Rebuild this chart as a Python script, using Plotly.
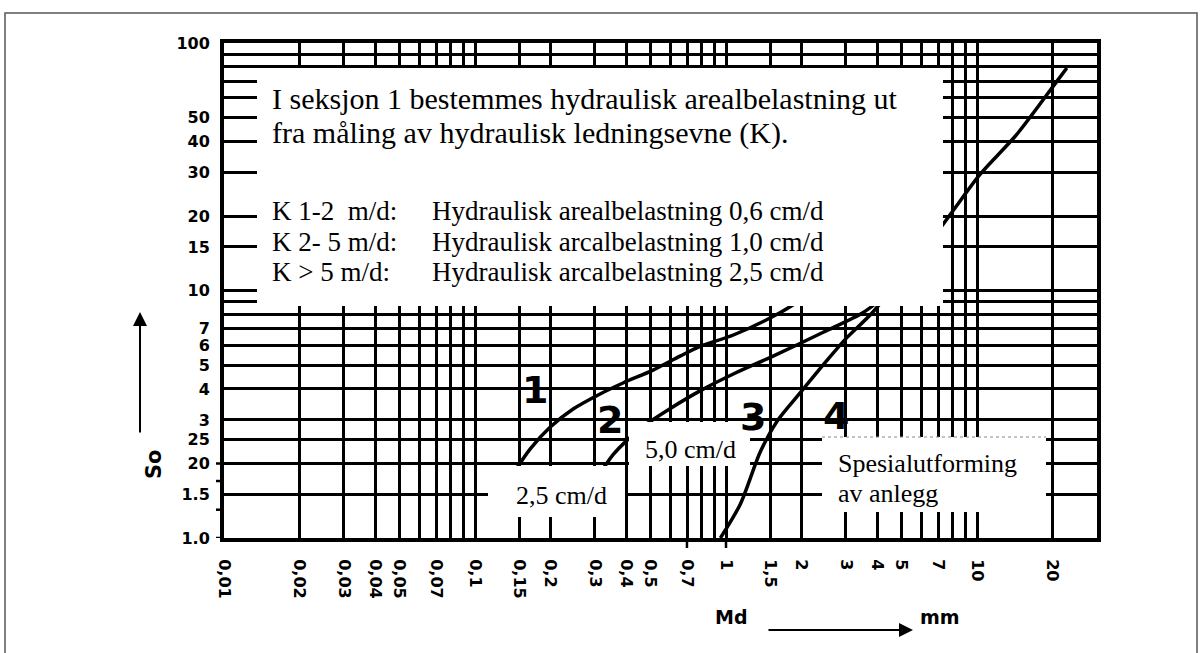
import math
import plotly.graph_objects as go

# ---------------- data ----------------
x_tickvals = [0.01, 0.02, 0.03, 0.04, 0.05, 0.06, 0.07, 0.08, 0.09, 0.1, 0.15, 0.2, 0.3, 0.4,
              0.5, 0.6, 0.7, 0.8, 0.9, 1, 1.5, 2, 3, 4, 5, 6, 7, 8, 9, 10, 20]
x_ticktext = ["0,01", "0,02", "0,03", "0,04", "0,05", "", "0,07", "", "", "0,1", "0,15", "0,2", "0,3", "0,4",
              "0,5", "", "0,7", "", "", "1", "1,5", "2", "3", "4", "5", "", "7", "", "", "10", "20"]
y_tickvals = [1, 1.5, 2, 2.5, 3, 4, 5, 6, 7, 8, 9, 10, 15, 20, 30, 40, 50, 60, 70, 80, 90, 100]
y_ticktext = ["1.0", "1.5", "20", "25", "3", "4", "5", "6", "7", "", "", "10", "15", "20", "30", "40",
              "50", "", "", "", "", "100"]
x_stub_ticks = [0.05, 0.1, 0.5, 1, 5, 10]
y_stub_ticks = [1, 2.5, 5, 10, 20, 50, 100]

curve1_md = [0.144, 0.166, 0.199, 0.246, 0.315, 0.389, 0.512, 0.656, 0.788, 1.07, 1.64, 2.1]
curve1_so = [1.86, 2.29, 2.80, 3.32, 3.82, 4.23, 4.77, 5.43, 5.95, 6.61, 8.13, 9.5]
curve2_md = [0.309, 0.355, 0.403, 0.467, 0.598, 0.788, 1.09, 1.54, 2.44, 3.51, 4.3]
curve2_so = [1.77, 2.17, 2.48, 2.82, 3.33, 3.93, 4.64, 5.43, 6.78, 8.13, 9.5]
curve3_md = [0.95, 1.14, 1.37, 1.60, 1.97, 2.53, 3.03, 3.85, 7.32, 10.3, 14.4, 20.8, 22.8]
curve3_so = [1.0, 1.37, 2.23, 2.97, 3.85, 5.23, 6.45, 8.19, 18.5, 29.5, 42.7, 70, 79.2]

info_lines = ["I seksjon 1 bestemmes hydraulisk arealbelastning ut",
              "fra måling av hydraulisk ledningsevne (K)."]
k_labels = ["K 1-2  m/d:", "K 2- 5 m/d:", "K > 5 m/d:"]
k_texts = ["Hydraulisk arealbelastning 0,6 cm/d",
           "Hydraulisk arcalbelastning 1,0 cm/d",
           "Hydraulisk arcalbelastning 2,5 cm/d"]
region_labels = ["1", "2", "3", "4"]

# ---------------- layout geometry ----------------
W, H = 1204, 653
L, R, T, B = 224, 1097, 43, 538


def px(x):
    return (x - L) / (R - L)


def py(y):
    return (B - y) / (B - T)


SERIF = "Liberation Serif"
SANS = "DejaVu Sans"

fig = go.Figure()
for xs, ys in [(curve1_md, curve1_so), (curve2_md, curve2_so), (curve3_md, curve3_so)]:
    fig.add_trace(go.Scatter(x=xs, y=ys, mode="lines",
                             line=dict(color="black", width=3.5, shape="spline", smoothing=0.8),
                             showlegend=False, hoverinfo="skip"))

shapes = []
# white boxes covering the grid
for (x0, y0, x1, y1) in [(257, 68, 943, 306), (488, 466, 625, 517),
                         (629, 422, 750, 466), (822, 437, 1046, 512)]:
    shapes.append(dict(type="rect", xref="paper", yref="paper",
                       x0=px(x0), x1=px(x1), y0=py(y1), y1=py(y0),
                       fillcolor="white", line=dict(width=0), layer="above"))
# thin grey dashed line at top of the right box
shapes.append(dict(type="line", xref="paper", yref="paper", x0=px(822), x1=px(1046),
                   y0=py(437), y1=py(437), line=dict(color="#888", width=1, dash="dot"),
                   layer="above"))
# tick stubs
for v in y_stub_ticks:
    shapes.append(dict(type="line", xref="paper", yref="y", x0=px(216), x1=0,
                       y0=math.log10(v), y1=math.log10(v), line=dict(color="black", width=2.5)))
for v in x_stub_ticks:
    shapes.append(dict(type="line", xref="x", yref="paper", x0=math.log10(v), x1=math.log10(v),
                       y0=0, y1=py(548), line=dict(color="black", width=2.5)))
# outer frame
shapes.append(dict(type="rect", xref="paper", yref="paper", x0=px(5), x1=px(1197),
                   y0=py(670), y1=py(13), line=dict(color="#555", width=1.5),
                   fillcolor="rgba(0,0,0,0)", layer="above"))

ann = []
for i, t in enumerate(info_lines):
    ann.append(dict(text=t, x=px(270), y=py([99, 133][i]), xref="paper", yref="paper",
                    showarrow=False, xanchor="left", yanchor="middle",
                    font=dict(family=SERIF, size=30, color="black")))
for i in range(3):
    yy = [211, 241.5, 272][i]
    for t, x in [(k_labels[i], 270), (k_texts[i], 430)]:
        ann.append(dict(text=t, x=px(x), y=py(yy), xref="paper", yref="paper",
                        showarrow=False, xanchor="left", yanchor="middle",
                        font=dict(family=SERIF, size=27, color="black")))

small = [("2,5 cm/d", 561, 495, "center"), ("5,0 cm/d", 690, 449, "center"),
         ("Spesialutforming", 836, 463, "left"), ("av anlegg", 836, 493, "left")]
for t, x, y, xa in small:
    ann.append(dict(text=t, x=px(x), y=py(y), xref="paper", yref="paper", showarrow=False,
                    xanchor=xa, yanchor="middle", font=dict(family=SERIF, size=26, color="black")))

for t, x, y in zip(region_labels, [535, 610, 753, 836], [390, 420, 417, 416]):
    ann.append(dict(text=t, x=px(x), y=py(y), xref="paper", yref="paper", showarrow=False,
                    xanchor="center", yanchor="middle",
                    font=dict(family=SANS, size=38, color="black", weight="bold")))

# axis titles with arrows
ann.append(dict(text="So", x=px(140), y=py(481), xref="paper", yref="paper", showarrow=False,
                textangle=-90, font=dict(family=SANS, size=21, color="black", weight="bold")))
ann.append(dict(text="", x=px(140), y=py(312), xref="paper", yref="paper", showarrow=True,
                ax=0, ay=122, arrowhead=2, arrowsize=1.4, arrowwidth=2, arrowcolor="black"))
ann.append(dict(text="Md", x=px(731), y=py(630), xref="paper", yref="paper", showarrow=False,
                font=dict(family=SANS, size=19, color="black", weight="bold")))
ann.append(dict(text="", x=px(913), y=py(630), xref="paper", yref="paper", showarrow=True,
                ax=-146, ay=0, arrowhead=2, arrowsize=1.4, arrowwidth=2, arrowcolor="black"))
ann.append(dict(text="mm", x=px(962), y=py(630), xref="paper", yref="paper", showarrow=False,
                font=dict(family=SANS, size=19, color="black", weight="bold")))

fig.update_layout(
    width=W, height=H, autosize=False,
    margin=dict(l=L, r=W - R, t=T, b=H - B, pad=0),
    paper_bgcolor="white", plot_bgcolor="white",
    shapes=shapes, annotations=ann, showlegend=False,
    xaxis=dict(type="log", range=[-2, -2 + (R - L) / 251], tickmode="array",
               tickvals=x_tickvals, ticktext=x_ticktext, tickangle=90,
               tickfont=dict(family=SANS, size=16, color="black", weight="bold"),
               ticks="", ticklabelstandoff=14,
               showgrid=True, gridcolor="black", gridwidth=3,
               showline=True, linecolor="black", linewidth=4, mirror=True,
               zeroline=False, automargin=False, fixedrange=True),
    yaxis=dict(type="log", range=[0, 2], tickmode="array",
               tickvals=y_tickvals, ticktext=y_ticktext,
               tickfont=dict(family=SANS, size=16, color="black", weight="bold"),
               ticks="", ticklabelstandoff=7,
               showgrid=True, gridcolor="black", gridwidth=3,
               showline=True, linecolor="black", linewidth=4, mirror=True,
               zeroline=False, automargin=False, fixedrange=True),
)

fig.write_html("out.html")
